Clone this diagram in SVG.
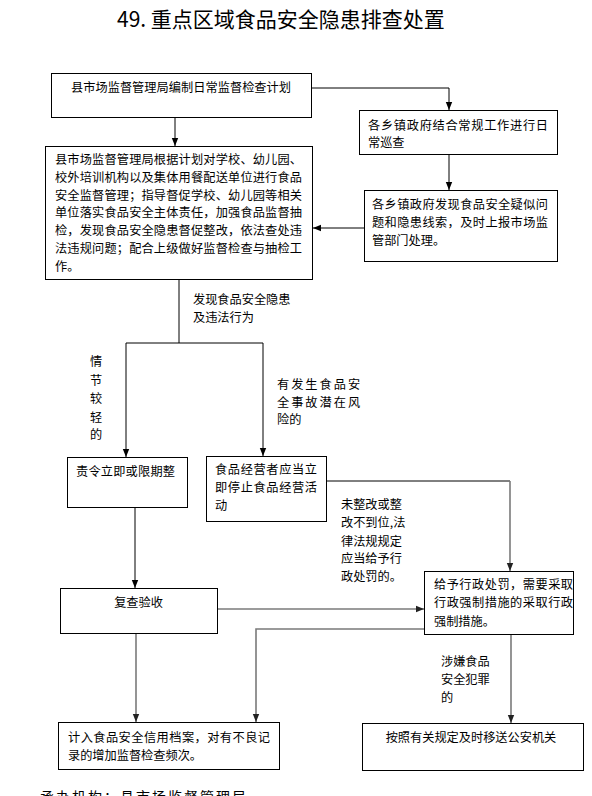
<svg xmlns="http://www.w3.org/2000/svg" width="592" height="796" viewBox="0 0 592 796">
<defs>
<marker id="ah" markerUnits="userSpaceOnUse" markerWidth="8" markerHeight="8" viewBox="0 0 8 8" refX="8" refY="4" orient="auto">
<path d="M0,0.8 L8,4 L0,7.2 Z" fill="#000"/>
</marker>
<marker id="ahg" markerUnits="userSpaceOnUse" markerWidth="8" markerHeight="8" viewBox="0 0 8 8" refX="8" refY="4" orient="auto">
<path d="M0,0.8 L8,4 L0,7.2 Z" fill="#222"/>
</marker>
</defs>
<style>
.box{fill:#fff;stroke:#000;stroke-width:1}
.t{font-family:"Noto Sans CJK SC","Liberation Sans",sans-serif;font-size:12.2px;fill:#000}
.c{stroke:#000;stroke-width:1;fill:none}
.g{stroke:#7a7a7a;stroke-width:1.6;fill:none}
.title{font-family:"Noto Sans CJK SC","Liberation Sans",sans-serif;font-size:21px;fill:#000}
</style>
<rect width="592" height="796" fill="#fff"/>
<text class="title" x="117" y="27">49. 重点区域食品安全隐患排查处置</text>

<g id="connectors">
<path class="c" d="M312,88 H449 V110" marker-end="url(#ah)"/>
<path class="c" d="M175,117 V146" marker-end="url(#ah)"/>
<path class="c" d="M449,154 V190" marker-end="url(#ah)"/>
<path class="c" d="M364,228 H313" marker-end="url(#ah)"/>
<path class="c" d="M179,279 V343"/>
<path class="c" d="M126,343 H263"/>
<path class="c" d="M126,343 V457" marker-end="url(#ah)"/>
<path class="c" d="M263,343 V456" marker-end="url(#ah)"/>
<path class="c" d="M327,481 H510"/>
<path class="g" d="M510,481 V571" marker-end="url(#ahg)"/>
<path class="c" d="M135,507 V588" marker-end="url(#ah)"/>
<path class="g" d="M218,609 H424" marker-end="url(#ahg)"/>
<path class="g" d="M136,633 V722" marker-end="url(#ahg)"/>
<path class="g" d="M424,629 H256 V722" marker-end="url(#ahg)"/>
<path class="g" d="M511,634 V723" marker-end="url(#ahg)"/>
</g>

<g id="n1">
<rect class="box" x="51.5" y="73.5" width="260" height="44"/>
<text class="t" x="71" y="92" textLength="220">县市场监督管理局编制日常监督检查计划</text>
</g>
<g id="n2">
<rect class="box" x="359.5" y="110.5" width="198" height="44"/>
<text class="t" x="368" y="130" textLength="180">各乡镇政府结合常规工作进行日</text>
<text class="t" x="368" y="147">常巡查</text>
</g>
<g id="n3">
<rect class="box" x="45.5" y="146.5" width="267" height="133"/>
<text class="t" x="55" y="164" textLength="247">县市场监督管理局根据计划对学校、幼儿园、</text>
<text class="t" x="55" y="182" textLength="247">校外培训机构以及集体用餐配送单位进行食品</text>
<text class="t" x="55" y="200" textLength="247">安全监督管理；指导督促学校、幼儿园等相关</text>
<text class="t" x="55" y="217" textLength="247">单位落实食品安全主体责任，加强食品监督抽</text>
<text class="t" x="55" y="235" textLength="247">检，发现食品安全隐患督促整改，依法查处违</text>
<text class="t" x="55" y="253" textLength="247">法违规问题；配合上级做好监督检查与抽检工</text>
<text class="t" x="55" y="271">作。</text>
</g>
<g id="n4">
<rect class="box" x="364.5" y="190.5" width="193" height="71"/>
<text class="t" x="372" y="209" textLength="176">各乡镇政府发现食品安全疑似问</text>
<text class="t" x="372" y="227" textLength="176">题和隐患线索，及时上报市场监</text>
<text class="t" x="372" y="245">管部门处理。</text>
</g>

<g id="labels">
<text class="t" x="193" y="304">发现食品安全隐患</text>
<text class="t" x="193" y="322">及违法行为</text>
<text class="t" x="90" y="366">情</text>
<text class="t" x="90" y="385">节</text>
<text class="t" x="90" y="403">较</text>
<text class="t" x="90" y="422">轻</text>
<text class="t" x="90" y="439">的</text>
<text class="t" x="277" y="389" letter-spacing="2">有发生食品安</text>
<text class="t" x="277" y="407" letter-spacing="2">全事故潜在风</text>
<text class="t" x="277" y="424">险的</text>
<text class="t" x="341" y="509">未整改或整</text>
<text class="t" x="341" y="527">改不到位,法</text>
<text class="t" x="341" y="546">律法规规定</text>
<text class="t" x="341" y="563">应当给予行</text>
<text class="t" x="341" y="581">政处罚的。</text>
<text class="t" x="441" y="666">涉嫌食品</text>
<text class="t" x="441" y="684">安全犯罪</text>
<text class="t" x="441" y="702">的</text>
</g>

<g id="n5">
<rect class="box" x="67.5" y="457.5" width="120" height="50"/>
<text class="t" x="76" y="476" textLength="99">责令立即或限期整</text>
</g>
<g id="n6">
<rect class="box" x="206.5" y="456.5" width="120" height="65"/>
<text class="t" x="215" y="474" textLength="102">食品经营者应当立</text>
<text class="t" x="215" y="492" textLength="102">即停止食品经营活</text>
<text class="t" x="215" y="510">动</text>
</g>
<g id="n7">
<rect class="box" x="424.5" y="571.5" width="149" height="63"/>
<text class="t" x="434" y="589" textLength="139">给予行政处罚，需要采取</text>
<text class="t" x="434" y="607" textLength="139">行政强制措施的采取行政</text>
<text class="t" x="434" y="626">强制措施。</text>
</g>
<g id="n8">
<rect class="box" x="60.5" y="588.5" width="157" height="45"/>
<text class="t" x="138.5" y="607" text-anchor="middle">复查验收</text>
</g>
<g id="n9">
<rect class="box" x="58.5" y="722.5" width="221" height="47"/>
<text class="t" x="68" y="742" textLength="202">计入食品安全信用档案，对有不良记</text>
<text class="t" x="68" y="760">录的增加监督检查频次。</text>
</g>
<g id="n10">
<rect class="box" x="362.5" y="723.5" width="221" height="47"/>
<text class="t" x="471" y="742" text-anchor="middle">按照有关规定及时移送公安机关</text>
</g>
<text class="t" x="40" y="802" style="font-size:14px" letter-spacing="2">承办机构：县市场监督管理局</text>
</svg>
